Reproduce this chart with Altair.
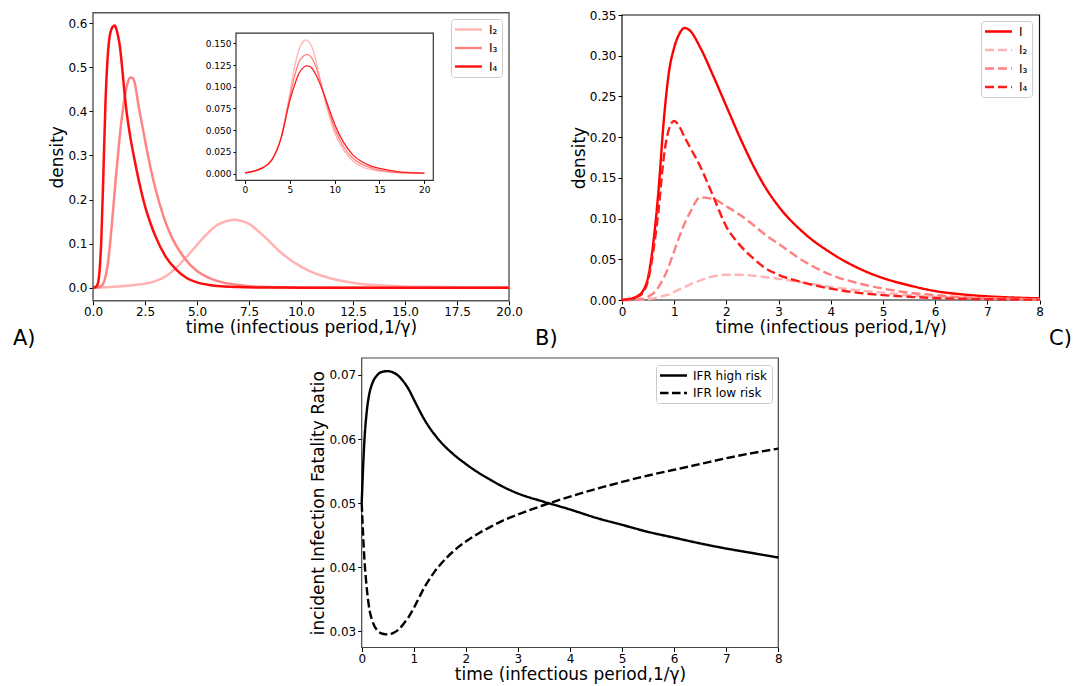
import altair as alt
import pandas as pd

FONT = "DejaVu Sans"
XTITLE = "time (infectious period,1/γ)"
panel_labels = ["A)", "B)", "C)"]

# ---------------- Panel A (main) ----------------
a_names = ["I₂", "I₃", "I₄"]
a_colors = ["#ffb3b3", "#ff8585", "#ff0d0d"]
a_t_I2 = [0, 1, 2, 3, 3.5, 4, 4.5, 5, 5.5, 6, 6.5, 6.8, 7.1, 7.5, 8, 8.5, 9, 9.5, 10, 10.5, 11, 12, 13, 14, 15, 16, 18, 20]
a_I2 = [0, 0.002, 0.006, 0.015, 0.026, 0.045, 0.07, 0.097, 0.123, 0.143, 0.152, 0.154, 0.152, 0.145, 0.126, 0.104, 0.081, 0.063, 0.048, 0.036, 0.027, 0.015, 0.008, 0.005, 0.003, 0.002, 0.0007, 0.0002]
a_t_I3 = [0, 0.2, 0.4, 0.5, 0.6, 0.7, 0.8, 0.9, 1.0, 1.1, 1.2, 1.3, 1.4, 1.5, 1.6, 1.7, 1.8, 1.9, 2.0, 2.2, 2.4, 2.6, 2.8, 3.0, 3.4, 3.8, 4.4, 5.0, 5.5, 6.0, 7.0, 8.0, 10.0, 12.0, 20.0]
a_I3 = [0, 0.0005, 0.004, 0.01, 0.025, 0.05, 0.09, 0.14, 0.195, 0.25, 0.3, 0.35, 0.39, 0.425, 0.452, 0.47, 0.477, 0.476, 0.466, 0.41, 0.36, 0.31, 0.265, 0.225, 0.16, 0.113, 0.067, 0.038, 0.024, 0.015, 0.006, 0.002, 0.0004, 0.0001, 0]
a_t_I4 = [0, 0.1, 0.2, 0.3, 0.4, 0.5, 0.6, 0.7, 0.8, 0.9, 1.0, 1.05, 1.1, 1.2, 1.3, 1.4, 1.5, 1.6, 1.8, 2.0, 2.25, 2.5, 2.75, 3.0, 3.5, 4.0, 4.5, 5.0, 6.0, 7.0, 8.0, 10.0, 12.0, 20.0]
a_I4 = [0, 0.001, 0.005, 0.03, 0.11, 0.26, 0.42, 0.52, 0.57, 0.588, 0.594, 0.595, 0.59, 0.572, 0.545, 0.5, 0.45, 0.405, 0.34, 0.29, 0.233, 0.185, 0.148, 0.117, 0.07, 0.041, 0.022, 0.012, 0.004, 0.0015, 0.0006, 0.0001, 0, 0]
a_xticks = [0, 2.5, 5, 7.5, 10, 12.5, 15, 17.5, 20]
a_yticks = [0, 0.1, 0.2, 0.3, 0.4, 0.5, 0.6]

# ---------------- Panel A (inset) ----------------
in_names = ["light", "medium", "dark"]
in_colors = ["#ffb3b3", "#ff8080", "#ff1a1a"]
in_t = [0, 1, 2, 3, 4, 5, 5.5, 6, 6.5, 6.8, 7, 7.5, 8, 8.5, 9, 9.5, 10, 11, 12, 13, 14, 15, 16, 17, 18, 20]
in_light = [0.001, 0.003, 0.007, 0.016, 0.04, 0.092, 0.121, 0.142, 0.152, 0.154, 0.153, 0.145, 0.126, 0.103, 0.081, 0.063, 0.047, 0.027, 0.015, 0.008, 0.005, 0.003, 0.002, 0.001, 0.0007, 0.0003]
in_mid = [0.001, 0.003, 0.007, 0.016, 0.04, 0.088, 0.111, 0.128, 0.135, 0.137, 0.137, 0.132, 0.12, 0.103, 0.084, 0.067, 0.052, 0.031, 0.018, 0.011, 0.007, 0.004, 0.0025, 0.0015, 0.001, 0.0004]
in_dark = [0.001, 0.003, 0.007, 0.016, 0.04, 0.084, 0.101, 0.115, 0.122, 0.124, 0.124, 0.121, 0.112, 0.1, 0.086, 0.071, 0.057, 0.036, 0.022, 0.014, 0.009, 0.006, 0.004, 0.0025, 0.0015, 0.0006]
in_xticks = [0, 5, 10, 15, 20]
in_yticks = [0, 0.025, 0.05, 0.075, 0.1, 0.125, 0.15]

# ---------------- Panel B ----------------
b_names = ["I", "I₂", "I₃", "I₄"]
b_colors = ["#ff0000", "#ffb3b3", "#ff8080", "#ff1a1a"]
b_t = [0, 0.2, 0.3, 0.4, 0.5, 0.6, 0.7, 0.8, 0.9, 1.0, 1.1, 1.2, 1.3, 1.5, 1.75, 2.0, 2.25, 2.5, 2.75, 3.0, 3.5, 4.0, 4.5, 5.0, 5.5, 6.0, 6.5, 7.0, 7.5, 8.0]
b_I = [0, 0.002, 0.005, 0.011, 0.028, 0.07, 0.135, 0.22, 0.28, 0.31, 0.327, 0.334, 0.331, 0.31, 0.275, 0.238, 0.201, 0.167, 0.138, 0.115, 0.0815, 0.058, 0.04, 0.027, 0.018, 0.011, 0.007, 0.0045, 0.003, 0.002]
b_I2 = [0, 0, 0, 0.0005, 0.001, 0.002, 0.0035, 0.005, 0.007, 0.01, 0.013, 0.016, 0.019, 0.024, 0.029, 0.031, 0.031, 0.03, 0.028, 0.026, 0.021, 0.016, 0.012, 0.009, 0.006, 0.004, 0.003, 0.002, 0.0013, 0.0009]
b_I3 = [0, 0, 0.0005, 0.0015, 0.004, 0.008, 0.016, 0.027, 0.042, 0.06, 0.078, 0.094, 0.107, 0.126, 0.124, 0.115, 0.105, 0.093, 0.08, 0.069, 0.047, 0.031, 0.021, 0.014, 0.009, 0.006, 0.0035, 0.002, 0.0013, 0.0008]
b_I4 = [0, 0.002, 0.004, 0.009, 0.024, 0.06, 0.11, 0.175, 0.21, 0.22, 0.213, 0.2, 0.188, 0.164, 0.127, 0.09, 0.068, 0.052, 0.039, 0.031, 0.021, 0.014, 0.009, 0.006, 0.004, 0.0025, 0.0015, 0.001, 0.0006, 0.0004]
b_xticks = [0, 1, 2, 3, 4, 5, 6, 7, 8]
b_yticks = [0, 0.05, 0.1, 0.15, 0.2, 0.25, 0.3, 0.35]

# ---------------- Panel C ----------------
c_names = ["IFR high risk", "IFR low risk"]
c_t = [0, 0.05, 0.1, 0.15, 0.2, 0.3, 0.4, 0.5, 0.6, 0.7, 0.8, 0.9, 1.0, 1.1, 1.2, 1.3, 1.4, 1.5, 1.75, 2.0, 2.25, 2.5, 2.75, 3.0, 3.5, 4.0, 4.5, 5.0, 5.5, 6.0, 6.5, 7.0, 7.5, 8.0]
c_high = [0.05, 0.0595, 0.0645, 0.0672, 0.0686, 0.07, 0.0705, 0.0706, 0.0704, 0.0699, 0.069, 0.0678, 0.0662, 0.0646, 0.0631, 0.0618, 0.0607, 0.0597, 0.0577, 0.0561, 0.0547, 0.0535, 0.0524, 0.0515, 0.0502, 0.049, 0.0477, 0.0466, 0.0455, 0.0446, 0.0437, 0.0429, 0.0422, 0.0415]
c_low = [0.05, 0.0415, 0.0365, 0.0333, 0.0317, 0.0301, 0.0296, 0.0295, 0.0297, 0.0302, 0.0311, 0.0322, 0.0336, 0.0352, 0.0368, 0.0381, 0.0393, 0.0403, 0.0424, 0.044, 0.0453, 0.0464, 0.0474, 0.0482, 0.0497, 0.051, 0.0522, 0.0533, 0.0543, 0.0552, 0.0561, 0.057, 0.0578, 0.0585]
c_xticks = [0, 1, 2, 3, 4, 5, 6, 7, 8]
c_yticks = [0.03, 0.04, 0.05, 0.06, 0.07]

# ---------------- layout (view pixels) ----------------
W, H = 1064, 677
A_X = dict(domain=[0, 20], range=[85, 501])
A_Y = dict(domain=[-0.0297, 0.6237], range=[292.8, 4.8])
IN_X = dict(domain=[-1, 21], range=[228.0, 425.3])
IN_Y = dict(domain=[-0.0077, 0.1617], range=[172.4, 25.1])
B_X = dict(domain=[0, 8], range=[614, 1031.5])
B_Y = dict(domain=[0, 0.35], range=[292, 7])
C_X = dict(domain=[0, 8], range=[353.7, 770.3])
C_Y = dict(domain=[0.02745, 0.07265], range=[639.5, 350])


def sc(d):
    return alt.Scale(domain=d["domain"], range=d["range"], nice=False, zero=False)


def long_df(tlists, vlists, names):
    rows = []
    for n, ts, vs in zip(names, tlists, vlists):
        for t, v in zip(ts, vs):
            rows.append({"t": t, "v": v, "series": n})
    return pd.DataFrame(rows)


def axis(values, fmt, title, orient, offset, labelsize=12, ticksize=4, titlepad=2):
    return alt.Axis(values=values, format=fmt, title=title, orient=orient, offset=offset,
                    grid=False, domain=False, ticks=True, tickSize=ticksize, tickColor="black",
                    tickWidth=1, labelFontSize=labelsize, labelFont=FONT, labelColor="black",
                    labelFlush=False, labelOverlap=False, labelPadding=2, titleFont=FONT,
                    titleFontSize=17, titleFontWeight="normal", titleColor="black",
                    titlePadding=titlepad)


def legend(x, y, rowpad=5.5, loff=21):
    return alt.Legend(orient="none", legendX=x, legendY=y, title=None,
                      symbolType="M-1.3,0L4.1,0", symbolSize=100, symbolStrokeWidth=2.4,
                      labelFontSize=12, labelFont=FONT, labelColor="black", labelOffset=loff,
                      rowPadding=rowpad, padding=4, strokeColor="#cccccc", fillColor="white",
                      cornerRadius=3)


def frame(xd, yd, stroke, sw, fill="transparent"):
    return alt.Chart(pd.DataFrame({"k": [0]})).mark_rect(
        fill=fill, stroke=stroke, strokeWidth=sw).encode(
        x=alt.XDatum(xd["domain"][0], type="quantitative", scale=sc(xd), axis=None),
        x2=alt.X2Datum(xd["domain"][1]),
        y=alt.YDatum(yd["domain"][0], type="quantitative", scale=sc(yd), axis=None),
        y2=alt.Y2Datum(yd["domain"][1]),
    )


# Panel A
dfA = long_df([a_t_I2, a_t_I3, a_t_I4], [a_I2, a_I3, a_I4], a_names)
linesA = alt.Chart(dfA).mark_line(strokeWidth=2.5, interpolate="monotone").encode(
    x=alt.X("t:Q", scale=sc(A_X), axis=axis(a_xticks, ".1f", XTITLE, "bottom", A_Y["range"][0] - H)),
    y=alt.Y("v:Q", scale=sc(A_Y), axis=axis(a_yticks, ".1f", "density", "left", -A_X["range"][0], titlepad=1)),
    color=alt.Color("series:N", scale=alt.Scale(domain=a_names, range=a_colors), legend=legend(443, 11)),
)
frameA = frame(A_X, A_Y, "#555555", 1.4)

# Inset
dfIn = long_df([in_t, in_t, in_t], [in_light, in_mid, in_dark], in_names)
linesIn = alt.Chart(dfIn).mark_line(strokeWidth=1.3, interpolate="monotone").encode(
    x=alt.X("t:Q", scale=sc(IN_X), axis=axis(in_xticks, "d", None, "bottom", IN_Y["range"][0] - H, labelsize=9, ticksize=3)),
    y=alt.Y("v:Q", scale=sc(IN_Y), axis=axis(in_yticks, ".3f", None, "left", -IN_X["range"][0], labelsize=9, ticksize=3)),
    color=alt.Color("series:N", scale=alt.Scale(domain=in_names, range=in_colors), legend=None),
)
frameIn = frame(IN_X, IN_Y, "#333333", 1.2, fill="white")

# Panel B
dfB = long_df([b_t] * 4, [b_I, b_I2, b_I3, b_I4], b_names)
legB = legend(973, 13)
linesB = alt.Chart(dfB).mark_line(strokeWidth=2.4, interpolate="monotone").encode(
    x=alt.X("t:Q", scale=sc(B_X), axis=axis(b_xticks, "d", XTITLE, "bottom", B_Y["range"][0] - H)),
    y=alt.Y("v:Q", scale=sc(B_Y), axis=axis(b_yticks, ".2f", "density", "left", -B_X["range"][0], titlepad=1)),
    color=alt.Color("series:N", scale=alt.Scale(domain=b_names, range=b_colors), legend=legB),
    strokeDash=alt.StrokeDash("series:N", scale=alt.Scale(domain=b_names, range=[[1, 0], [9, 4], [9, 4], [9, 4]]), legend=legB),
)
frameB = frame(B_X, B_Y, "#111111", 1.2)

# Panel C
dfC = long_df([c_t, c_t], [c_high, c_low], c_names)
legC = alt.Legend(orient="none", legendX=648, legendY=357, title=None,
                  symbolType="M-1.3,0L4.1,0", symbolSize=100, symbolStrokeWidth=2.4,
                  symbolStrokeColor="black", labelFontSize=12, labelFont=FONT,
                  labelColor="black", labelOffset=20, rowPadding=4.5, padding=4,
                  strokeColor="#cccccc", fillColor="white", cornerRadius=3)
linesC = alt.Chart(dfC).mark_line(strokeWidth=2.4, color="black", interpolate="monotone").encode(
    x=alt.X("t:Q", scale=sc(C_X), axis=axis(c_xticks, "d", XTITLE, "bottom", C_Y["range"][0] - H)),
    y=alt.Y("v:Q", scale=sc(C_Y), axis=axis(c_yticks, ".2f", "incident Infection Fatality Ratio", "left", -C_X["range"][0], titlepad=1)),
    strokeDash=alt.StrokeDash("series:N", scale=alt.Scale(domain=c_names, range=[[1, 0], [8.5, 3.5]]), legend=legC),
)
frameC = frame(C_X, C_Y, "#444444", 1.2)


def label(i, x, y):
    return alt.Chart(pd.DataFrame({"label": [panel_labels[i]]})).mark_text(
        align="left", baseline="middle", fontSize=21, font=FONT, color="black").encode(
        x=alt.value(x), y=alt.value(y), text="label:N")


chart = alt.layer(
    frameA, linesA, frameIn, linesIn, frameB, linesB, frameC, linesC,
    label(0, 5, 331), label(1, 527, 331), label(2, 1041, 331),
).resolve_scale(
    x="independent", y="independent", color="independent", strokeDash="independent"
).properties(
    width=W, height=H, autosize=alt.AutoSizeParams(type="none"), padding=0
).configure(font=FONT).configure_view(stroke=None)

chart.save("out.html", embed_options={"renderer": "svg", "actions": False})
